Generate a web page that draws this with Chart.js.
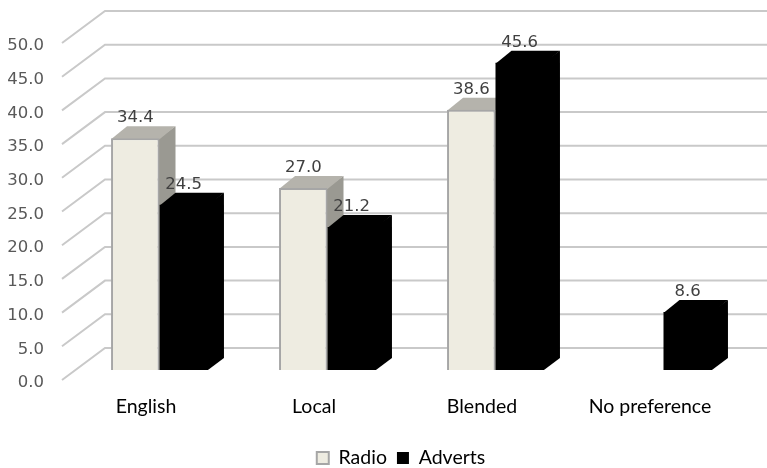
<!DOCTYPE html>
<html>
<head>
<meta charset="utf-8">
<style>
  body { margin: 0; background: #fff; }
  canvas { display: block; }
</style>
<script src="https://cdn.jsdelivr.net/npm/chart.js@4"></script>
</head>
<body>
<canvas id="chart" width="767" height="468"></canvas>
<script>
const categories = ["English", "Local", "Blended", "No preference"];
const radio = [34.4, 27.0, 38.6, null];
const adverts = [24.5, 21.2, 45.6, 8.6];
const seriesNames = ["Radio", "Adverts"];

const numberFont = { family: "DejaVu Sans", size: 16.5 };
const textFont = { family: "Lato", size: 19.5 };

// 3D look: the y scale sits on the front edge of the floor,
// tick labels hang a little below the start of each wall line
const labelDrop = 3;
const wallDepth = { x: 43, y: -32 };
const barShift = { x: 13.5, y: -10 - labelDrop };
const barDepth = { x: 16, y: -12 };
const shades = [
  { top: "#b5b3ac", side: "#9a9992" },
  { top: "#000000", side: "#000000" },
];

function fillPoly(ctx, points, color) {
  ctx.beginPath();
  points.forEach((p, i) => (i ? ctx.lineTo(p[0], p[1]) : ctx.moveTo(p[0], p[1])));
  ctx.closePath();
  ctx.fillStyle = color;
  ctx.fill();
}

const wallPlugin = {
  id: "wall",
  beforeDatasetsDraw(chart) {
    const { ctx, scales, chartArea, width } = chart;
    ctx.save();
    ctx.strokeStyle = "#c9c9c9";
    ctx.lineWidth = 2;
    scales.y.ticks.forEach((tick) => {
      const y = scales.y.getPixelForValue(tick.value) - labelDrop;
      ctx.beginPath();
      ctx.moveTo(chartArea.left, y);
      ctx.lineTo(chartArea.left + wallDepth.x, y + wallDepth.y);
      ctx.lineTo(width, y + wallDepth.y);
      ctx.stroke();
    });
    ctx.restore();
  },
};

const barSidesPlugin = {
  id: "barSides",
  beforeDatasetsDraw(chart) {
    const { ctx } = chart;
    // shift stays on while the library draws the bar fronts
    ctx.save();
    ctx.translate(barShift.x, barShift.y);
    chart.data.datasets.forEach((ds, i) => {
      chart.getDatasetMeta(i).data.forEach((el, j) => {
        if (ds.data[j] === null) return;
        const l = el.x - el.width / 2;
        const r = el.x + el.width / 2;
        const t = el.y;
        const b = el.base;
        const dx = barDepth.x;
        const dy = barDepth.y;
        // one pixel under the front face so no seam shows
        fillPoly(ctx, [[r - 1, t], [r + dx, t + dy], [r + dx, b + dy], [r, b], [r - 1, b]], shades[i].side);
        fillPoly(ctx, [[l, t + 1], [l + dx, t + dy], [r + dx, t + dy], [r, t + 1]], shades[i].top);
      });
    });
  },
  afterDatasetsDraw(chart) {
    const { ctx } = chart;
    ctx.restore();
    // value labels
    ctx.save();
    ctx.font = numberFont.size + "px '" + numberFont.family + "'";
    ctx.fillStyle = "#404040";
    ctx.textAlign = "center";
    ctx.textBaseline = "middle";
    chart.data.datasets.forEach((ds, i) => {
      chart.getDatasetMeta(i).data.forEach((el, j) => {
        if (ds.data[j] === null) return;
        ctx.fillText(ds.data[j].toFixed(1), el.x + barShift.x, el.y + barShift.y - 20);
      });
    });
    ctx.restore();
  },
};

// the legend is centred on the page in the original, not on the plot
const legendPlugin = {
  id: "legendShift",
  afterLayout(chart) {
    const legend = chart.legend;
    legend.left += 34;
    legend.right += 34;
    legend.top = 458 - legend.height / 2;
    legend.bottom = legend.top + legend.height;
  },
};

new Chart(document.getElementById("chart"), {
  type: "bar",
  data: {
    labels: categories,
    datasets: [
      {
        label: seriesNames[0],
        data: radio,
        backgroundColor: "#eeece1",
        borderColor: "#a6a6a6",
        borderWidth: 2,
        categoryPercentage: 0.577,
        barPercentage: 1,
      },
      {
        label: seriesNames[1],
        data: adverts,
        backgroundColor: "#000000",
        borderColor: "#000000",
        borderWidth: 0,
        categoryPercentage: 0.577,
        barPercentage: 1,
      },
    ],
  },
  options: {
    responsive: false,
    animation: false,
    layout: { padding: { top: 43 + labelDrop, right: 33, left: 0, bottom: 0 } },
    scales: {
      x: {
        grid: { display: false, drawTicks: false },
        border: { display: false },
        ticks: { font: textFont, color: "#000000", padding: 12, autoSkip: false, maxRotation: 0 },
        afterFit(scale) {
          scale.height = 88 - labelDrop - scale.chart.legend.height;
        },
      },
      y: {
        min: 0,
        max: 50,
        grid: { display: false, drawTicks: false },
        border: { display: false },
        ticks: {
          stepSize: 5,
          font: numberFont,
          color: "#595959",
          padding: 18,
          callback: (v) => v.toFixed(1),
        },
        afterFit(scale) {
          scale.width = 62;
        },
      },
    },
    plugins: {
      tooltip: { enabled: false },
      legend: {
        position: "bottom",
        labels: { font: textFont, color: "#000000", boxWidth: 12, boxHeight: 12, padding: 10 },
      },
    },
  },
  plugins: [wallPlugin, barSidesPlugin, legendPlugin],
});
</script>
</body>
</html>
